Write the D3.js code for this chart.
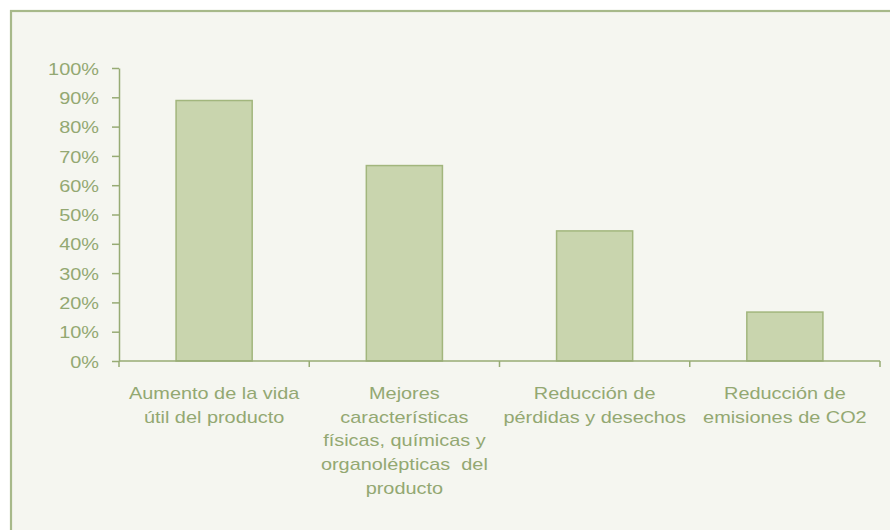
<!DOCTYPE html>
<html>
<head>
<meta charset="utf-8">
<script src="https://cdn.jsdelivr.net/npm/d3@7"></script>
<style>
  html, body { margin: 0; padding: 0; background: #ffffff; }
  svg { display: block; }
  text { font-family: "Liberation Sans", Arial, sans-serif; }
</style>
</head>
<body>
<div id="chart"></div>
<script>
// Benefits reported (share of respondents)
const categories = [
  "Aumento de la vida útil del producto",
  "Mejores características físicas, químicas y organolépticas del producto",
  "Reducción de pérdidas y desechos",
  "Reducción de emisiones de CO2"
];
const categoryLines = [
  ["Aumento de la vida", "útil del producto"],
  ["Mejores", "características", "físicas, químicas y", "organolépticas  del", "producto"],
  ["Reducción de", "pérdidas y desechos"],
  ["Reducción de", "emisiones de CO2"]
];
const values = [88.9, 66.7, 44.4, 16.7];
const yTicks = [0, 10, 20, 30, 40, 50, 60, 70, 80, 90, 100];

const W = 890, H = 530;
const textColor = "#93a872";
const axisColor = "#97ab74";
const barFill = "#c9d5ae";
const barStroke = "#a2b67d";
const stretch = 1.17;   // wide lettering
const fontSize = 17;

const svg = d3.select("#chart").append("svg")
  .attr("width", W).attr("height", H);

// panel frame
svg.append("rect")
  .attr("x", 11).attr("y", 11)
  .attr("width", W + 20).attr("height", H + 20)
  .attr("fill", "#f5f6f0")
  .attr("stroke", "#a7b98a")
  .attr("stroke-width", 2.2);

const x = d3.scaleBand()
  .domain(categories)
  .range([119, 880])
  .paddingInner(0.6)
  .paddingOuter(0.3);

const y = d3.scaleLinear()
  .domain([0, 100])
  .range([361, 68]);

// bars
svg.append("g").selectAll("rect")
  .data(values)
  .join("rect")
  .attr("x", (d, i) => x(categories[i]))
  .attr("y", d => y(d))
  .attr("width", x.bandwidth())
  .attr("height", d => y(0) - y(d))
  .attr("fill", barFill)
  .attr("stroke", barStroke)
  .attr("stroke-width", 1.5);

// y axis
const yAxis = svg.append("g")
  .attr("transform", "translate(119,0)")
  .call(d3.axisLeft(y).tickValues(yTicks).tickSize(7).tickSizeOuter(0)
    .tickFormat(d => d + "%"));
yAxis.select(".domain").attr("stroke", axisColor).attr("stroke-width", 1.5);
yAxis.selectAll(".tick line").attr("stroke", axisColor).attr("stroke-width", 1.5);
yAxis.selectAll(".tick text")
  .attr("x", null).attr("dy", "0.36em")
  .attr("transform", `translate(-20,0) scale(${stretch},1)`)
  .attr("fill", textColor)
  .attr("font-size", fontSize)
  .attr("font-family", "'Liberation Sans', Arial, sans-serif")
  .attr("text-anchor", "end");

// x axis line with ticks at category boundaries
const step = x.step();
const gap = step * x.paddingInner();
const xAxis = svg.append("g");
xAxis.append("line")
  .attr("x1", x.range()[0]).attr("x2", x.range()[1])
  .attr("y1", y(0)).attr("y2", y(0))
  .attr("stroke", axisColor).attr("stroke-width", 1.5);
const bounds = [x.range()[0]].concat(categories.map(c => x(c) + x.bandwidth() + gap / 2));
bounds[bounds.length - 1] = x.range()[1];
xAxis.selectAll("line.tick")
  .data(bounds)
  .join("line")
  .attr("class", "tick")
  .attr("x1", d => d).attr("x2", d => d)
  .attr("y1", y(0)).attr("y2", y(0) + 6)
  .attr("stroke", axisColor).attr("stroke-width", 1.5);

// category labels
const labels = svg.append("g");
categories.forEach((c, i) => {
  const cx = x(c) + x.bandwidth() / 2;
  categoryLines[i].forEach((line, j) => {
    labels.append("text")
      .attr("transform", `translate(${cx},${399 + j * 23.7}) scale(${stretch},1)`)
      .attr("text-anchor", "middle")
      .attr("fill", textColor)
      .attr("font-size", fontSize)
      .style("white-space", "pre")
      .text(line);
  });
});
</script>
</body>
</html>
